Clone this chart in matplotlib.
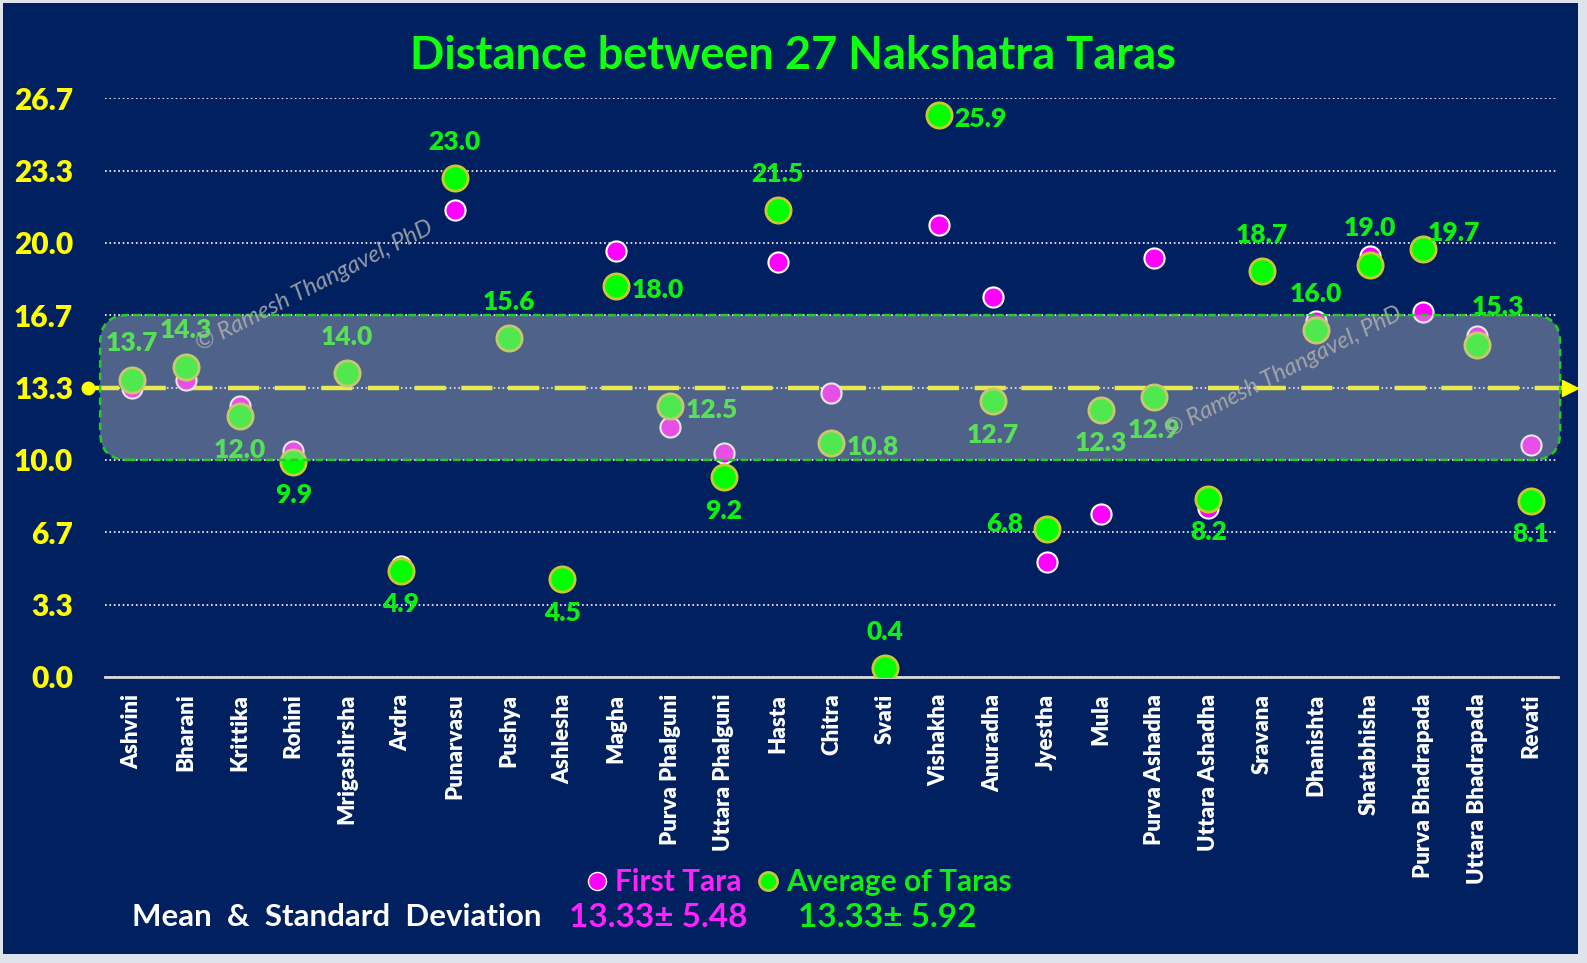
import matplotlib.pyplot as plt
from matplotlib.patches import FancyBboxPatch, Rectangle
from matplotlib.lines import Line2D

# data
nakshatras = ['Ashvini', 'Bharani', 'Krittika', 'Rohini', 'Mrigashirsha', 'Ardra',
              'Punarvasu', 'Pushya', 'Ashlesha', 'Magha', 'Purva Phalguni',
              'Uttara Phalguni', 'Hasta', 'Chitra', 'Svati', 'Vishakha', 'Anuradha',
              'Jyestha', 'Mula', 'Purva Ashadha', 'Uttara Ashadha', 'Sravana',
              'Dhanishta', 'Shatabhisha', 'Purva Bhadrapada', 'Uttara Bhadrapada', 'Revati']
first_tara = [13.3, 13.7, 12.5, 10.4, 14.0, 5.1, 21.5, 15.6, 4.5, 19.6, 11.5, 10.3, 19.1,
              13.1, 0.4, 20.8, 17.5, 5.3, 7.5, 19.3, 7.8, 18.7, 16.4, 19.4, 16.8, 15.7, 10.7]
avg_taras = [13.7, 14.3, 12.0, 9.9, 14.0, 4.9, 23.0, 15.6, 4.5, 18.0, 12.5, 9.2, 21.5,
             10.8, 0.4, 25.9, 12.7, 6.8, 12.3, 12.9, 8.2, 18.7, 16.0, 19.0, 19.7, 15.3, 8.1]
mean_first, sd_first = 13.33, 5.48
mean_avg, sd_avg = 13.33, 5.92
band_low, band_high = 10.0, 16.67
yticks = [0.0, 3.33, 6.67, 10.0, 13.33, 16.67, 20.0, 23.33, 26.67]

# where each value label sits relative to its marker
label_pos = ['a', 'a', 'b', 'b', 'a', 'b', 'a', 'a', 'b', 'r', 'r', 'b', 'a', 'r', 'a',
             'r', 'b', 'l', 'b', 'b', 'b', 'a', 'a', 'a', 'ar', 'au', 'b']
offsets = {'a': (0, 26), 'b': (0, -24), 'r': (30, -3), 'l': (-30, 4),
           'ar': (22, 12), 'au': (15, 27)}

plt.rcParams['font.family'] = ['Lato', 'DejaVu Sans']
navy = '#002060'
green = '#11ee11'
W, H = 1587, 963

fig = plt.figure(figsize=(W / 100, H / 100), dpi=100, facecolor='#dfe4ec')
fig.patches.append(Rectangle((3 / W, 9 / H), 1575 / W, 951 / H, transform=fig.transFigure,
                             facecolor=navy, edgecolor='none', zorder=-10))
ax = fig.add_axes([105 / W, 1 - 677 / H, 1453 / W, 579 / H])
ax.set_facecolor('none')

x = list(range(len(nakshatras)))
ax.set_xlim(-0.5, len(nakshatras) - 0.5)
ax.set_ylim(0, 26.67)
ax.set_yticks(yticks)
ax.set_yticklabels(['%.1f' % t for t in yticks], color='#ffff00', fontsize=21.5, fontweight='heavy')
ax.set_xticks(x)
ax.set_xticklabels(nakshatras, rotation=90, color='white', fontsize=16, fontweight='heavy')
ax.tick_params(length=0)
ax.tick_params(axis='y', pad=23)
ax.tick_params(axis='x', pad=12)
for s in ['top', 'right', 'left']:
    ax.spines[s].set_visible(False)
ax.spines['bottom'].set_color('#d9d9d9')
ax.spines['bottom'].set_linewidth(2)
ax.grid(axis='y', color='white', linestyle=':', linewidth=1.2)
ax.set_axisbelow(True)

# mean line with dot and arrow
ax.plot([-0.82, 26.65], [mean_avg, mean_avg], color='#ffff00', lw=3.2, dashes=(7, 3.5),
        clip_on=False, zorder=3)
ax.plot([-0.82], [mean_avg], 'o', color='#ffff00', ms=9, clip_on=False, zorder=3)
ax.plot([26.72], [mean_avg], '>', color='#ffff00', ms=12, clip_on=False, zorder=3)

ax.scatter(x, first_tara, s=210, c='#ff00ff', edgecolors='white', linewidths=1.5, zorder=4)
ax.scatter(x, avg_taras, s=330, c='#00ff00', edgecolors='#c8c832', linewidths=2, zorder=5)

for i, v in enumerate(avg_taras):
    ax.annotate('%.1f' % v, (i, v), xytext=offsets[label_pos[i]], textcoords='offset points',
                ha='center', va='center', color=green, fontsize=19, fontweight='heavy', zorder=6)

# shaded band
band = FancyBboxPatch((-0.59, band_low), 27.13, band_high - band_low,
                      boxstyle='round,pad=0,rounding_size=0.52', mutation_aspect=2.48,
                      facecolor=(0.78, 0.78, 0.78, 0.4), edgecolor='#22cc22',
                      linestyle=(0, (3, 2)), linewidth=1.8, zorder=10, clip_on=False)
ax.add_patch(band)

# watermarks
for wx, wy in [(314, 286), (1283, 372)]:
    fig.text(wx / W, 1 - wy / H, '\u00a9 Ramesh Thangavel, PhD', rotation=27, color='#b0b0b0',
             fontsize=17, style='italic', ha='center', va='center', alpha=0.85, zorder=11)

fig.text(0.5, 1 - 56 / H, 'Distance between 27 Nakshatra Taras', ha='center', va='center',
         color='#11ff11', fontsize=32.5, fontweight='bold')

handles = [Line2D([], [], marker='o', ls='', mfc='#ff00ff', mec='white', ms=13),
           Line2D([], [], marker='o', ls='', mfc='#00ff00', mec='#c8c832', mew=2, ms=13)]
fig.legend(handles, ['First Tara', 'Average of Taras'], loc='center',
           bbox_to_anchor=(797 / W, 1 - 882 / H), ncol=2, frameon=False,
           labelcolor=['#ff22ff', green], prop={'weight': 'bold', 'size': 21.5},
           handletextpad=0.1, columnspacing=0.4, handlelength=1)

fig.text(132 / W, 1 - 917 / H, 'Mean  &  Standard  Deviation', color='white', fontsize=22.5,
         fontweight='bold', va='center')
fig.text(569 / W, 1 - 917 / H, '%.2f\u00b1 %.2f' % (mean_first, sd_first), color='#ff22ff',
         fontsize=24, fontweight='bold', va='center')
fig.text(798 / W, 1 - 917 / H, '%.2f\u00b1 %.2f' % (mean_avg, sd_avg), color=green,
         fontsize=24, fontweight='bold', va='center')

fig.savefig('out.png', dpi=100, facecolor=fig.get_facecolor())
